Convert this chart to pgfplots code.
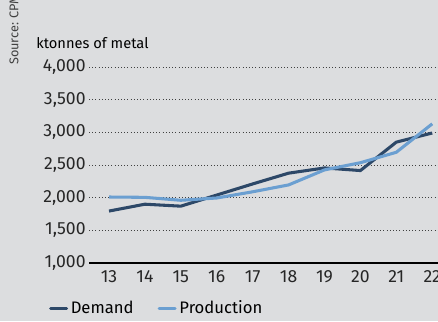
\documentclass[border=0pt]{standalone}
\usepackage{pgfplots}
\pgfplotsset{compat=1.18}
\usepackage{fontspec}
\setmainfont{Fira Sans}
\definecolor{bg}{HTML}{DCDDDF}
\definecolor{demand}{HTML}{2D4868}
\definecolor{prod}{HTML}{6B9FD1}
\begin{document}
\begin{tikzpicture}[x=1pt,y=1pt]
\clip (0,0) rectangle (328.5,240.75);
\fill[bg] (0,0) rectangle (328.5,240.75);
\node[rotate=90,anchor=west,font=\fontsize{9.5}{11}\selectfont,text=black!75,inner sep=0pt] at (11.5,192) {Source: CPM Group};
\node[anchor=west,font=\fontsize{11}{13}\selectfont,inner sep=0pt] at (27,208.5) {ktonnes of metal};
\begin{axis}[
  at={(66.75pt,43.5pt)}, anchor=south west,
  scale only axis, width=265.5pt, height=147pt,
  xmin=12.443, xmax=22.3, ymin=1000, ymax=4000,
  axis line style={draw=none},
  axis x line*=bottom,
  xtick={13,...,22},
  ytick={1000,1500,...,4000},
  major tick length=0pt,
  ymajorgrids,
  grid style={dotted, black!75, line width=0.7pt},
  yticklabel style={/pgf/number format/.cd,1000 sep={,},assume math mode=true},
  xticklabel style={/pgf/number format/.cd,assume math mode=true,1000 sep={}},
  tick label style={font=\fontsize{13.2}{15}\selectfont, text=black!85},
  yticklabel shift=-1pt,
  xticklabel shift=2pt,
  legend style={at={(-0.125,-0.23)}, anchor=west, draw=none, fill=none,
    font=\fontsize{12.5}{14}\selectfont, legend columns=2,
    /tikz/every even column/.append style={column sep=16pt}},
  legend image code/.code={\draw[#1,line cap=round] (0pt,0pt) -- (12pt,0pt);},
  clip=false,
]
\draw[black, line width=1.8pt] (axis cs:12.443,1000) -- (axis cs:22.3,1000);
\addplot[demand, line width=2.3pt] coordinates {
(13,1795) (14,1900) (15,1870) (16,2040) (17,2210) (18,2375) (19,2455) (20,2415) (21,2850) (22,2990)};
\addplot[prod, line width=2.3pt] coordinates {
(13,2010) (14,2005) (15,1960) (16,1995) (17,2090) (18,2195) (19,2425) (20,2535) (21,2695) (22,3130)};
\legend{Demand, Production}
\end{axis}
\end{tikzpicture}
\end{document}
